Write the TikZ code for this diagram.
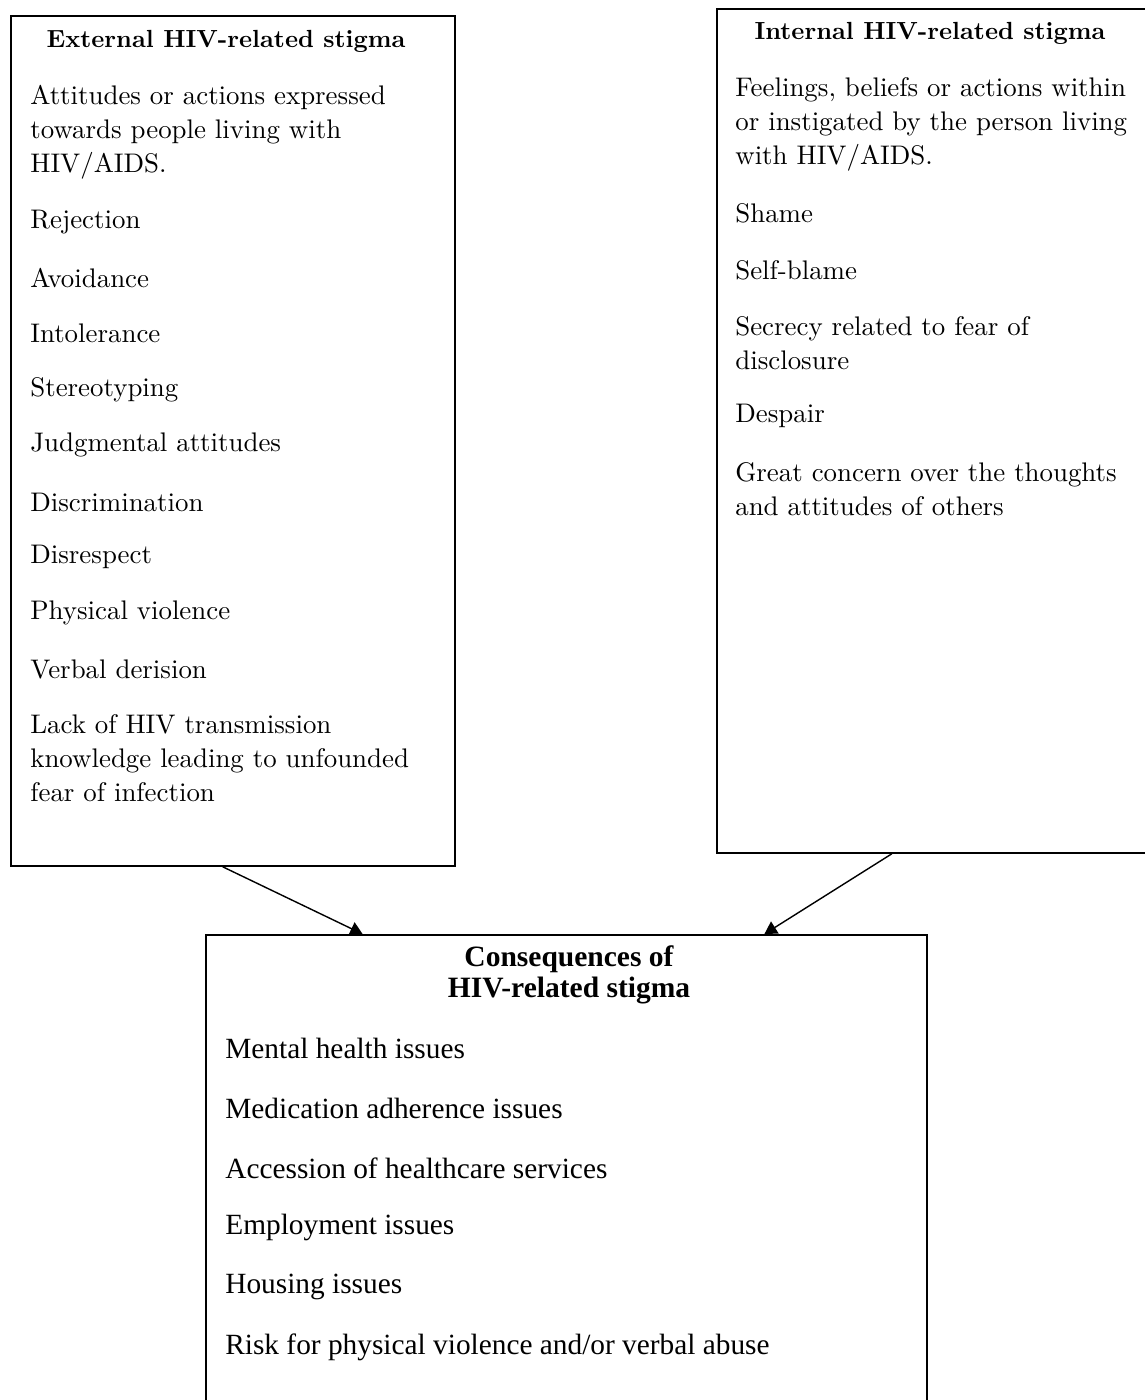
\documentclass[tikz,border=0pt]{standalone}
\usepackage{fontspec}
\usepackage{tikz}
\usetikzlibrary{arrows.meta, positioning, calc}
\newfontfamily\timesfont{Liberation Serif}
\newfontfamily\lmfont{lmroman10-regular.otf}[BoldFont=lmroman10-bold.otf]

\begin{document}
\begin{tikzpicture}[
    x=0.02cm, y=-0.02cm,
    box/.style={draw, line width=1.1pt, inner sep=0pt, anchor=north west},
    heading/.style={font=\lmfont\bfseries\fontsize{14.1}{17.6}\selectfont, align=center, inner sep=0pt},
    item/.style={anchor=west, align=left, inner sep=0pt, font=\lmfont\fontsize{15.3}{19.4}\selectfont},
    cons/.style={anchor=west, inner sep=0pt, font=\timesfont\fontsize{16.7}{20}\selectfont},
    arrow/.style={-{Triangle[length=7pt, width=8pt]}, line width=0.8pt}
]

\path[use as bounding box, clip] (0,0) rectangle (1145,1400);

% Boxes
\node[box, minimum width=8.88cm, minimum height=17cm] (external) at (10,15) {};
\node[box, minimum width=8.8cm, minimum height=16.88cm] (internal) at (716,8) {};
\node[box, minimum width=14.42cm, minimum height=10cm] (consequences) at (205,934) {};

% External stigma
\node[heading] (exthead) at (226,41) {External HIV-related stigma};
\node[item] (extdef) at (30,132) {Attitudes or actions expressed\\towards people living with\\HIV/AIDS.};
\node[item] (rejection) at (30,222) {Rejection};
\node[item] (avoidance) at (30,278) {Avoidance};
\node[item] (intolerance) at (30,333) {Intolerance};
\node[item] (stereotyping) at (30,390) {Stereotyping};
\node[item] (judgmental) at (30,445) {Judgmental attitudes};
\node[item] (discrimination) at (30,502) {Discrimination};
\node[item] (disrespect) at (30,557) {Disrespect};
\node[item] (violence) at (30,613) {Physical violence};
\node[item] (derision) at (30,669) {Verbal derision};
\node[item] (knowledge) at (30,758) {Lack of HIV transmission\\knowledge leading to unfounded\\fear of infection};

% Internal stigma
\node[heading] (inthead) at (930,33) {Internal HIV-related stigma};
\node[item] (intdef) at (735,124) {Feelings, beliefs or actions within\\or instigated by the person living\\with HIV/AIDS.};
\node[item] (shame) at (735,213) {Shame};
\node[item] (selfblame) at (735,270) {Self-blame};
\node[item] (secrecy) at (735,343) {Secrecy related to fear of\\disclosure};
\node[item] (despair) at (735,416) {Despair};
\node[item] (concern) at (735,489) {Great concern over the thoughts\\and attitudes of others};

% Consequences
\node[heading, font=\timesfont\bfseries\fontsize{16.8}{17.6}\selectfont] (conshead) at (569,975) {Consequences of\\HIV-related stigma};
\node[cons] (mental) at (225,1048) {Mental health issues};
\node[cons] (medication) at (225,1108) {Medication adherence issues};
\node[cons] (accession) at (225,1168) {Accession of healthcare services};
\node[cons] (employment) at (225,1227) {Employment issues};
\node[cons] (housing) at (225,1287) {Housing issues};
\node[cons] (risk) at (225,1347) {Risk for physical violence and/or verbal abuse};

% Arrows
\draw[arrow] ($(external.south west)!0.477!(external.south east)$) -- ($(consequences.north west)!0.218!(consequences.north east)$);
\draw[arrow] ($(internal.south west)!0.398!(internal.south east)$) -- ($(consequences.north west)!0.774!(consequences.north east)$);

\end{tikzpicture}
\end{document}
